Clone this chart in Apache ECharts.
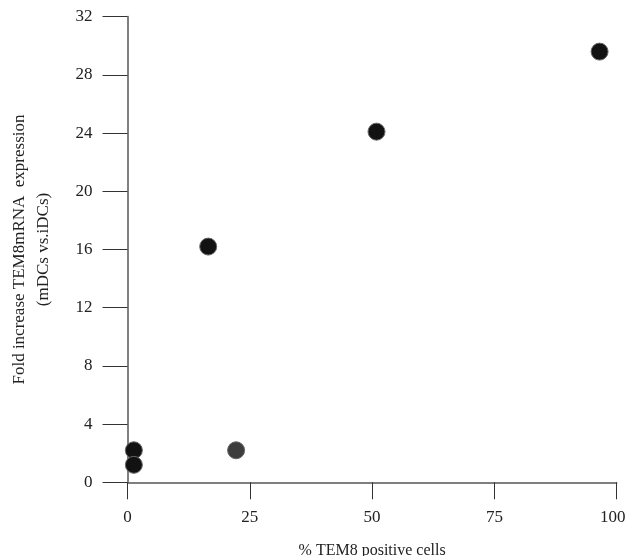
<!DOCTYPE html>
<html>
<head>
<meta charset="utf-8">
<script src="https://cdn.jsdelivr.net/npm/echarts@6/dist/echarts.min.js"></script>
<style>
  html, body { margin: 0; padding: 0; background: #fff; }
  #chart { width: 625px; height: 556px; }
</style>
</head>
<body>
<div id="chart"></div>
<script>
// values
var pctPositive = [1.3, 1.3, 22.2, 16.5, 50.9, 96.5]
var foldIncrease = [2.2, 1.2, 2.2, 16.2, 24.1, 29.6]
var xTicks = [0, 25, 50, 75, 100]
var yTicks = [0, 4, 8, 12, 16, 20, 24, 28, 32]

var font = '"Liberation Serif", "DejaVu Serif", serif'
var points = pctPositive.map((x, i) => [x, foldIncrease[i]])
var xMax = xTicks[xTicks.length - 1]

var mychart = echarts.init(document.getElementById('chart'))
mychart.setOption({
    animation: false,
    backgroundColor: '#fff',
    grid: { left: 127.5, right: 8.3, top: 16.7, bottom: 73.7, outerBoundsMode: 'none', containLabel: false },
    xAxis: {
        type: 'value',
        min: xTicks[0], max: xMax, interval: 25,
        name: '% TEM8 positive cells',
        nameLocation: 'middle', nameGap: 60,
        nameTextStyle: { fontFamily: font, fontSize: 16, color: '#222' },
        axisLine: { lineStyle: { color: '#555', width: 1.5 } },
        axisTick: { length: 17, lineStyle: { color: '#333', width: 1 } },
        axisLabel: {
            margin: 27, fontFamily: font, fontSize: 17, color: '#222',
            // last label sits a little left so it stays inside the page
            formatter: v => v === xMax ? '{r|' + v + '}' : '' + v,
            rich: { r: { fontFamily: font, fontSize: 17, color: '#222', padding: [0, 8, 0, 0] } }
        },
        splitLine: { show: false }
    },
    yAxis: {
        type: 'value',
        min: yTicks[0], max: yTicks[yTicks.length - 1], interval: 4,
        name: 'Fold increase TEM8mRNA  expression\n(mDCs vs.iDCs)',
        nameLocation: 'middle', nameGap: 72, nameRotate: 90,
        nameTextStyle: { fontFamily: font, fontSize: 17, color: '#222', lineHeight: 24, align: 'center' },
        axisLine: { show: true, lineStyle: { color: '#808080', width: 2 } },
        axisTick: { show: true, length: 25, lineStyle: { color: '#333', width: 1 } },
        axisLabel: { margin: 35, fontFamily: font, fontSize: 17, color: '#222' },
        splitLine: { show: false }
    },
    series: [{
        type: 'scatter',
        data: points,
        symbol: 'circle',
        symbolSize: 17,
        itemStyle: {
            color: p => p.dataIndex === 2 ? '#3d3d3d' : '#121212',
            borderColor: '#666',
            borderWidth: 1,
            opacity: 1
        }
    }]
})
</script>
</body>
</html>
